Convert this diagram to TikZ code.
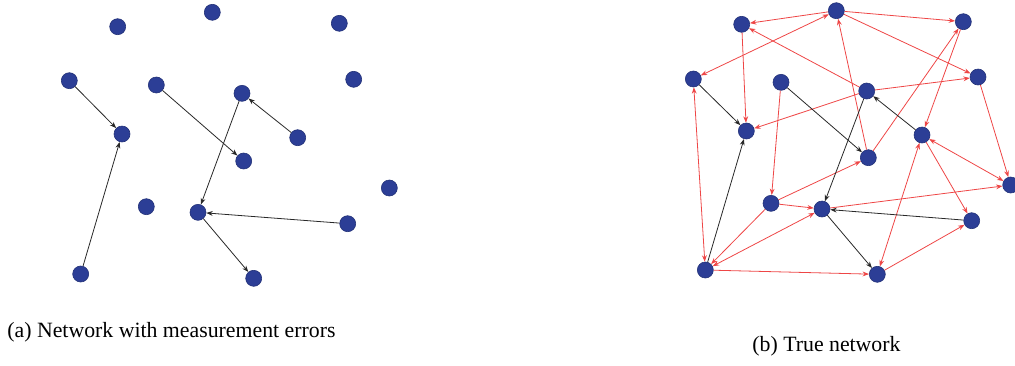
\documentclass[tikz,border=0pt]{standalone}
\usepackage{fontspec}
\setmainfont{Liberation Serif}
\usetikzlibrary{arrows.meta}
\definecolor{nodeblue}{RGB}{44,62,150}
\definecolor{edgered}{RGB}{238,70,70}
\definecolor{edgeblack}{RGB}{40,40,40}
\tikzset{
  vtx/.style={circle,fill=nodeblue,draw=nodeblue!80!black,line width=0.3pt,inner sep=0pt,minimum size=8pt},
  blkedge/.style={draw=edgeblack,line width=0.4pt,-{Stealth[length=3.2pt,width=2.4pt]}},
  rededge/.style={draw=edgered,line width=0.4pt,-{Stealth[length=3.2pt,width=2.4pt]}},
  rededgeb/.style={draw=edgered,line width=0.4pt,{Stealth[length=3.2pt,width=2.4pt]}-{Stealth[length=3.2pt,width=2.4pt]}},
  captxt/.style={font=\fontsize{10.9}{13}\selectfont,inner sep=0pt}
}
\begin{document}
\begin{tikzpicture}[x=0.5pt,y=-0.5pt]
\useasboundingbox (0,0) rectangle (1015,365);
% panel (a)
\node[vtx] (a1) at (117.7,26.7) {};
\node[vtx] (a2) at (212.3,12.3) {};
\node[vtx] (a3) at (339.3,23.3) {};
\node[vtx] (a4) at (69.3,80.7) {};
\node[vtx] (a5) at (156.3,85) {};
\node[vtx] (a6) at (242,93.3) {};
\node[vtx] (a7) at (353.7,79.3) {};
\node[vtx] (a8) at (122,134) {};
\node[vtx] (a9) at (297.7,137.7) {};
\node[vtx] (a10) at (243.7,161) {};
\node[vtx] (a11) at (389.3,188) {};
\node[vtx] (a12) at (146.3,206.7) {};
\node[vtx] (a13) at (198,212.3) {};
\node[vtx] (a14) at (347.7,223.7) {};
\node[vtx] (a15) at (80.7,274) {};
\node[vtx] (a16) at (253.7,278.3) {};
\draw[blkedge] (a4) -- (a8);
\draw[blkedge] (a15) -- (a8);
\draw[blkedge] (a5) -- (a10);
\draw[blkedge] (a9) -- (a6);
\draw[blkedge] (a6) -- (a13);
\draw[blkedge] (a14) -- (a13);
\draw[blkedge] (a13) -- (a16);
% panel (b)
\node[vtx] (b1) at (741.7,24.3) {};
\node[vtx] (b2) at (836.3,10.7) {};
\node[vtx] (b3) at (963.3,21.7) {};
\node[vtx] (b4) at (693.3,79) {};
\node[vtx] (b5) at (781,82.3) {};
\node[vtx] (b6) at (866.7,91) {};
\node[vtx] (b7) at (978,77) {};
\node[vtx] (b8) at (746.3,131) {};
\node[vtx] (b9) at (922,135) {};
\node[vtx] (b10) at (868.3,157.7) {};
\node[vtx] (b11) at (1010.7,185) {};
\node[vtx] (b12) at (771,203.3) {};
\node[vtx] (b13) at (822,209) {};
\node[vtx] (b14) at (971.7,220.7) {};
\node[vtx] (b15) at (705.3,270) {};
\node[vtx] (b16) at (877.3,274.3) {};
% red edges
\draw[rededge] (b2) -- (b1);
\draw[rededgeb] (b4) -- (b2);
\draw[rededge] (b2) -- (b3);
\draw[rededge] (b2) -- (b7);
\draw[rededge] (b1) -- (b8);
\draw[rededge] (b6) -- (b1);
\draw[rededge] (b10) -- (b2);
\draw[rededge] (b6) -- (b8);
\draw[rededge] (b6) -- (b7);
\draw[rededge] (b10) -- (b3);
\draw[rededge] (b3) -- (b9);
\draw[rededge] (b7) -- (b11);
\draw[rededge] (b5) -- (b12);
\draw[rededgeb] (b4) -- (b15);
\draw[rededge] (b12) -- (b13);
\draw[rededge] (b12) -- (b10);
\draw[rededge] (b12) -- (b15);
\draw[rededgeb] (b13) -- (b15);
\draw[rededge] (b15) -- (b16);
\draw[rededge] (b16) -- (b14);
\draw[rededgeb] (b9) -- (b16);
\draw[rededge] (b9) -- (b14);
\draw[rededgeb] (b9) -- (b11);
\draw[rededge] (b13) -- (b11);
% black edges
\draw[blkedge] (b4) -- (b8);
\draw[blkedge] (b15) -- (b8);
\draw[blkedge] (b5) -- (b10);
\draw[blkedge] (b9) -- (b6);
\draw[blkedge] (b6) -- (b13);
\draw[blkedge] (b14) -- (b13);
\draw[blkedge] (b13) -- (b16);
% captions
\node[captxt,anchor=base west] (capa) at (7,337) {(a) Network with measurement errors};
\node[captxt,anchor=base west] (capb) at (752,351) {(b) True network};
\end{tikzpicture}
\end{document}
